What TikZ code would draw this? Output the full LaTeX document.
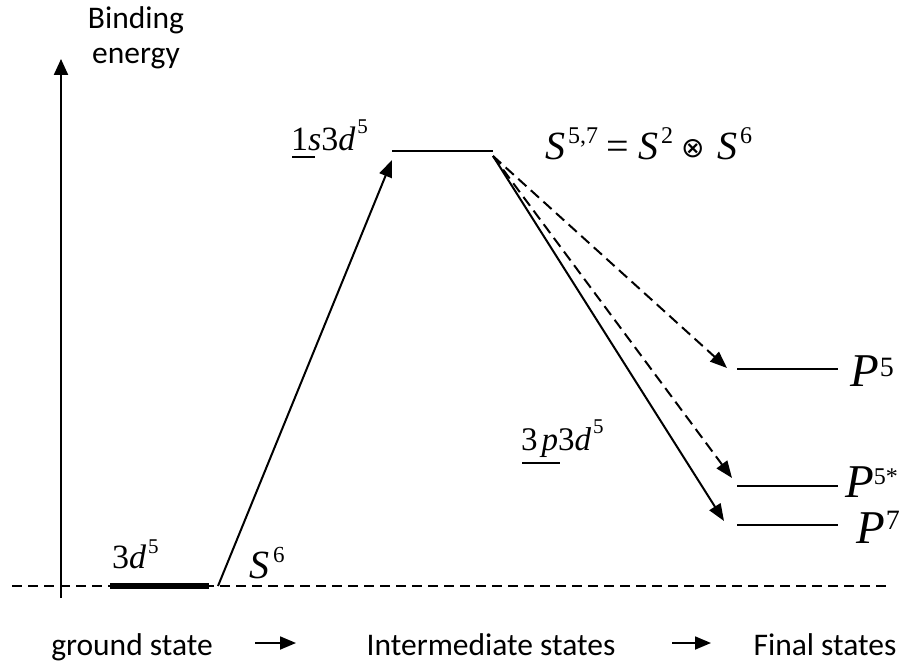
\documentclass[tikz,border=0pt]{standalone}
\usepackage{fontspec}
\setmainfont{Carlito}
\newfontfamily\tnr{Liberation Serif}
\newfontfamily\dvs{DejaVu Sans}
\usetikzlibrary{arrows.meta}
\newcommand\mv[1]{{\itshape #1}}
% \sups[raise]{size}{text}
\newcommand\sups[3][0.42em]{\raisebox{#1}{\fontsize{#2}{#2}\selectfont #3}}
\newcommand\myotimes{\raisebox{2pt}{\dvs\fontsize{28}{28}\selectfont ⊗}}
\tikzset{
  lbl/.style={font=\fontsize{31.5}{35}\selectfont, inner sep=0pt},
  mlbl/.style={font=\tnr\fontsize{#1}{#1}\selectfont, inner sep=0pt, anchor=base west},
  level/.style={line width=2.8pt},
  tip/.style={-{Triangle[length=17pt,width=13pt]}},
  conn/.style={line width=2pt, tip},
  dconn/.style={conn, dash pattern=on 11pt off 6pt},
  uline/.style={line width=1.3pt},
}
\begin{document}
\begin{tikzpicture}[x=1pt,y=-1pt]
\useasboundingbox (0,0) rectangle (901,663);
% axis
\coordinate (axb) at (61,598);
\coordinate (axt) at (61,59);
\draw[line width=2.2pt, -{Triangle[length=16pt,width=14pt]}] (axb) -- (axt);
\node[lbl, align=center] (bind) at (136,38) {Binding\\energy};
% baseline
\coordinate (bl1) at (12,586);
\coordinate (bl2) at (892,586);
\draw[line width=1.4pt, dash pattern=on 10pt off 6pt] (bl1) -- (bl2);
% ground state
\coordinate (g1) at (110,586);
\coordinate (g2) at (209,586);
\draw[line width=6pt] (g1) -- (g2);
\node[mlbl=34] (gl) at (112,568) {3\mv{d}\hspace{2pt}\sups{21}{5}};
\node[mlbl=40] (s6) at (249,578) {\mv{S}\hspace{4pt}\sups[0.4em]{23}{6}};
% intermediate
\coordinate (i1) at (392,151);
\coordinate (i2) at (493,151);
\draw[level] (i1) -- (i2);
\node[mlbl=34] (il) at (291,150) {1\mv{s}3\mv{d}\hspace{2pt}\sups[0.48em]{21}{5}};
\coordinate (u1a) at (292,157);
\coordinate (u1b) at (315,157);
\draw[uline] (u1a) -- (u1b);
\node[mlbl=40] (sf) at (545,160) {\makebox[61pt][l]{\mv{S}\hspace{3pt}\sups[0.4em]{24}{5,7}}\makebox[32pt][l]{=}\makebox[43pt][l]{\mv{S}\hspace{3pt}\sups[0.4em]{24}{2}}\makebox[36pt][l]{\myotimes}\mv{S}\hspace{3pt}\sups[0.4em]{24}{6}};
% final states
\coordinate (p5a) at (737,369);
\coordinate (p5b) at (838,369);
\coordinate (p5sa) at (737,486);
\coordinate (p5sb) at (838,486);
\coordinate (p7a) at (737,525);
\coordinate (p7b) at (838,525);
\draw[level] (p5a) -- (p5b);
\draw[level] (p5sa) -- (p5sb);
\draw[level] (p7a) -- (p7b);
\node[mlbl=47] (p5l) at (850,386) {\mv{P}\hspace{1pt}\sups[10pt]{28}{5}};
\node[mlbl=47] (p5sl) at (845,497) {\mv{P}\sups[13pt]{24}{5*}};
\node[mlbl=47] (p7l) at (856,543) {\mv{P}\hspace{1pt}\sups[14pt]{28}{7}};
\node[mlbl=33] (ml) at (521,450) {3\hspace{4pt}\mv{p}3\mv{d}\hspace{2pt}\sups[0.5em]{21}{5}};
\coordinate (u2a) at (522,463);
\coordinate (u2b) at (560,463);
\draw[uline] (u2a) -- (u2b);
% transitions
\coordinate (gs) at (218,586);
\coordinate (it) at (392,160);
\coordinate (is) at (493,156);
\coordinate (t5) at (727,368);
\coordinate (t5s) at (732,478);
\coordinate (t7) at (724,521);
\draw[conn] (gs) -- (it);
\draw[dconn] (is) -- (t5);
\draw[dconn] (is) -- (t5s);
\draw[conn] (is) -- (t7);
% bottom legend
\node[lbl, anchor=base] (gst) at (132,655) {ground state};
\node[lbl, anchor=base] (ist) at (491,655) {Intermediate states};
\node[lbl, anchor=base] (fst) at (825,655) {Final states};
\coordinate (a1s) at (255,643);
\coordinate (a1e) at (296,643);
\coordinate (a2s) at (672,643);
\coordinate (a2e) at (711,643);
\draw[line width=1.8pt, -{Triangle[length=16pt,width=13pt]}] (a1s) -- (a1e);
\draw[line width=1.8pt, -{Triangle[length=16pt,width=13pt]}] (a2s) -- (a2e);
\end{tikzpicture}
\end{document}
